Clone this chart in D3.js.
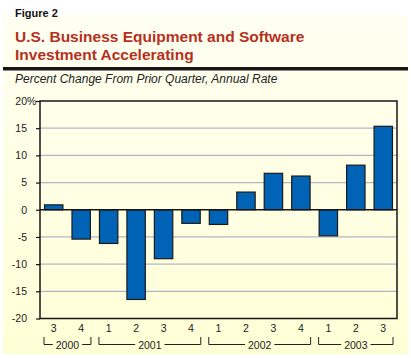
<!DOCTYPE html>
<html><head><meta charset="utf-8">
<script src="https://cdn.jsdelivr.net/npm/d3@7"></script>
<style>body{margin:0;background:#fff;} svg{display:block;font-family:"Liberation Sans",Arial,sans-serif;}</style>
</head><body>
<script>
const quarters = ["3","4","1","2","3","4","1","2","3","4","1","2","3"];
const values = [0.9,-5.4,-6.2,-16.5,-9.0,-2.5,-2.7,3.25,6.7,6.2,-4.8,8.2,15.35];
const years = [{label:"2000",from:0,to:1},{label:"2001",from:2,to:5},{label:"2002",from:6,to:9},{label:"2003",from:10,to:12}];
const yTicks = [20,15,10,5,0,-5,-10,-15,-20];

const W=411,H=358;
const svg=d3.select("body").append("svg").attr("width",W).attr("height",H);
const defs=svg.append("defs");
const gr=defs.append("linearGradient").attr("id","bg").attr("x1",0).attr("y1",0).attr("x2",0).attr("y2",1);
gr.append("stop").attr("offset","0").attr("stop-color","#fffff2");
gr.append("stop").attr("offset","1").attr("stop-color","#ffffd6");
svg.append("rect").attr("x",3).attr("y",15).attr("width",405).attr("height",339).attr("fill","url(#bg)");

svg.append("text").attr("x",15).attr("y",17).attr("font-size",11).attr("font-weight","bold").attr("fill","#111").text("Figure 2");
svg.append("text").attr("x",15).attr("y",41.5).attr("font-size",15.5).attr("font-weight","bold").attr("fill","#b5301f").text("U.S. Business Equipment and Software");
svg.append("text").attr("x",15).attr("y",60).attr("font-size",15.5).attr("font-weight","bold").attr("fill","#b5301f").text("Investment Accelerating");
svg.append("rect").attr("x",3).attr("y",67).attr("width",405).attr("height",3.5).attr("fill","#1a1418");
svg.append("text").attr("x",15).attr("y",83).attr("font-size",12).attr("font-style","italic").attr("fill","#222").text("Percent Change From Prior Quarter, Annual Rate");

const L=40,R=397,T=101,B=318.5;
const x=d3.scaleBand().domain(d3.range(values.length)).range([L,R]).paddingInner(0.33).paddingOuter(0.165);
const y=d3.scaleLinear().domain([-20,20]).range([B,T]);

// gridlines
svg.append("g").selectAll("line").data(yTicks.filter(d=>d!==0&&d!==20&&d!==-20)).join("line")
  .attr("x1",L).attr("x2",R).attr("y1",d=>y(d)).attr("y2",d=>y(d)).attr("stroke","#b4b4c8").attr("stroke-width",1.2);

// y axis
const ya=svg.append("g").attr("transform",`translate(${L},0)`).call(d3.axisLeft(y).tickValues(yTicks).tickSize(4).tickPadding(9).tickFormat(d=>d));
ya.select(".domain").remove();
ya.selectAll("line").attr("stroke","#111").attr("stroke-width",1.2);
ya.selectAll("text").attr("font-size",10.5).attr("fill","#222").attr("font-family","Liberation Sans, Arial, sans-serif");
ya.selectAll(".tick").filter(d=>d===20).append("text").attr("x",-13).attr("dy","0.32em").attr("text-anchor","start")
  .attr("font-size",10.5).attr("fill","#222").text("%");

// bars
svg.append("g").selectAll("rect").data(values).join("rect")
  .attr("x",(d,i)=>x(i)).attr("width",x.bandwidth())
  .attr("y",d=>y(Math.max(0,d))).attr("height",d=>Math.abs(y(d)-y(0)))
  .attr("fill","#0063b5").attr("stroke","#1a1a1a").attr("stroke-width",1.2);

// frame
svg.append("rect").attr("x",L).attr("y",T).attr("width",R-L).attr("height",B-T).attr("fill","none").attr("stroke","#1a1418").attr("stroke-width",1.5);
svg.append("line").attr("x1",L).attr("x2",R).attr("y1",y(0)).attr("y2",y(0)).attr("stroke","#1a1418").attr("stroke-width",1.5);

// quarter labels
svg.append("g").selectAll("text").data(quarters).join("text")
  .attr("x",(d,i)=>x(i)+x.bandwidth()/2).attr("y",332).attr("text-anchor","middle")
  .attr("font-size",10.5).attr("fill","#222").text(d=>d);

// year brackets
const step=x.step();
const yg=svg.append("g");
years.forEach(yr=>{
  const x0=x(yr.from)-(step-x.bandwidth())/2+4;
  const x1=x(yr.to)+x.bandwidth()+(step-x.bandwidth())/2-4;
  const cx=(x0+x1)/2;
  const t=yg.append("text").attr("x",cx).attr("y",348.5).attr("text-anchor","middle").attr("font-size",10.5).attr("fill","#222").text(yr.label);
  const tw=t.node().getComputedTextLength();
  const ly=344.5;
  yg.append("path").attr("d",`M${x0},337V${ly}H${cx-tw/2-3}M${cx+tw/2+3},${ly}H${x1}V337`)
    .attr("fill","none").attr("stroke","#222").attr("stroke-width",1);
});
</script>
</body></html>
